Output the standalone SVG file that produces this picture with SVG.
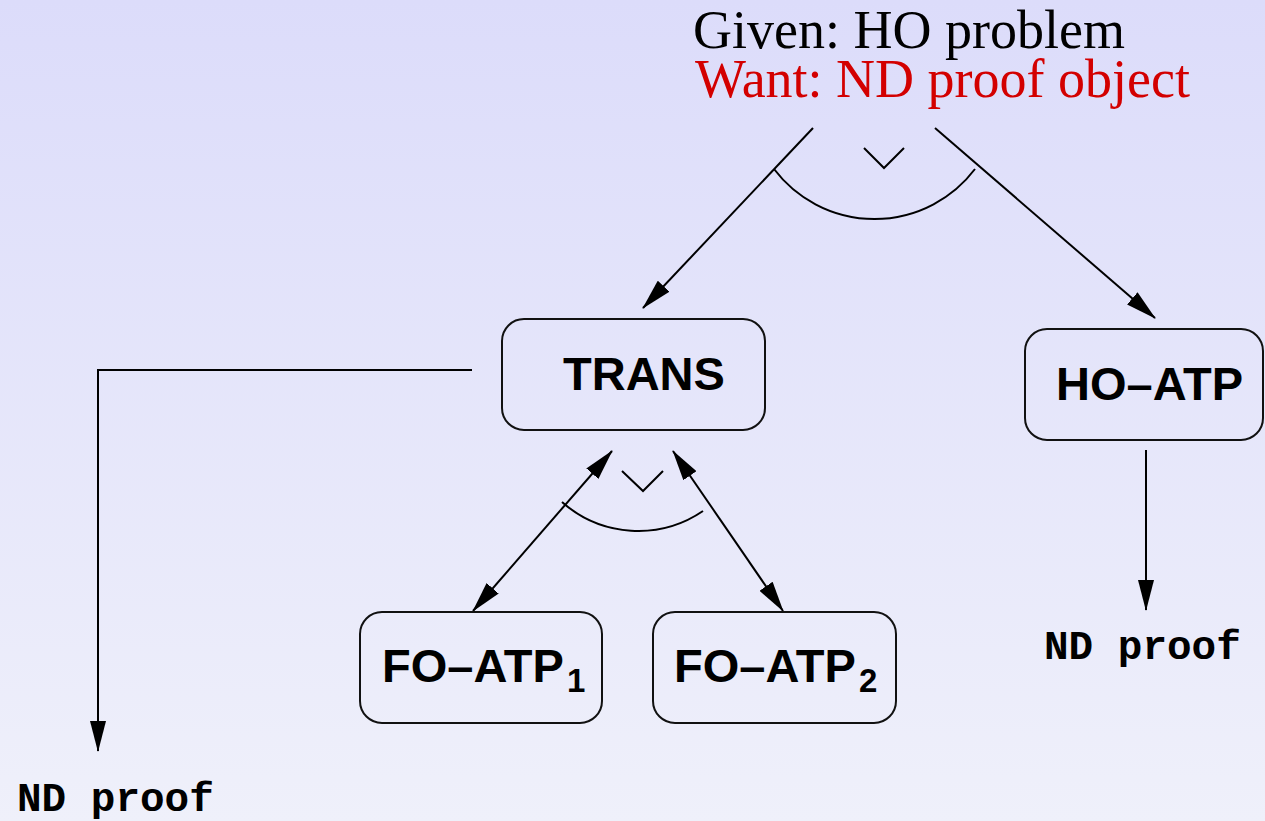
<svg xmlns="http://www.w3.org/2000/svg" width="1265" height="821" viewBox="0 0 1265 821">
  <defs>
    <linearGradient id="bg" x1="0" y1="0" x2="0" y2="1">
      <stop offset="0" stop-color="#dcdcfa"/>
      <stop offset="1" stop-color="#eff0fa"/>
    </linearGradient>
    <marker id="arrow" viewBox="0 0 31 16" refX="30" refY="8" markerWidth="31" markerHeight="16" markerUnits="userSpaceOnUse" orient="auto-start-reverse">
      <path d="M0,0 L31,8 L0,16 z" fill="#000"/>
    </marker>
    <style>
      .box { fill: none; stroke: #111; stroke-width: 2; }
      .lbl { font-family: "Liberation Sans", Arial, sans-serif; font-weight: bold; font-size: 47px; fill: #000; }
      .sub { font-size: 33px; }
      .mono { font-family: "Liberation Mono", "Courier New", monospace; font-weight: bold; font-size: 41px; fill: #000; }
      .head { font-family: "Liberation Serif", "Times New Roman", serif; font-size: 54px; }
      .wire { fill: none; stroke: #000; stroke-width: 2; }
      .arr { marker-end: url(#arrow); }
      .both { marker-start: url(#arrow); marker-end: url(#arrow); }
    </style>
  </defs>

  <rect width="1265" height="821" fill="url(#bg)"/>

  <!-- problem statement at the root -->
  <g id="goal">
    <text class="head" x="693" y="48" fill="#000">Given: HO problem</text>
    <text class="head" x="695" y="97" fill="#d30000">Want: ND proof object</text>
  </g>

  <g id="connectors">
    <!-- root splits into TRANS and HO-ATP (disjunction) -->
    <line class="wire arr" x1="813" y1="128" x2="643" y2="308"/>
    <line class="wire arr" x1="935" y1="128" x2="1155" y2="318"/>
    <path class="wire" d="M774,169 A126,126 0 0 0 975,169"/>
    <polyline class="wire" points="864,148 884,168 904,148"/>

    <!-- TRANS to the first-order provers (disjunction) -->
    <line class="wire both" x1="612" y1="451" x2="473" y2="611"/>
    <line class="wire both" x1="673" y1="451" x2="783" y2="611"/>
    <path class="wire" d="M562,502 A115,115 0 0 0 703,511"/>
    <polyline class="wire" points="622,471 643,491 663,471"/>

    <!-- TRANS result -->
    <polyline class="wire arr" points="472,370 98,370 98,751"/>

    <!-- HO-ATP result -->
    <line class="wire arr" x1="1146" y1="450" x2="1146" y2="610"/>
  </g>

  <g id="trans">
    <rect class="box" x="502" y="319" width="263" height="111" rx="22"/>
    <text class="lbl" x="563" y="390">TRANS</text>
  </g>

  <g id="ho-atp">
    <rect class="box" x="1025" y="329" width="238" height="111" rx="22"/>
    <text class="lbl" x="1056" y="400">HO–ATP</text>
  </g>

  <g id="fo-atp-1">
    <rect class="box" x="360" y="612" width="242" height="111" rx="22"/>
    <text class="lbl" x="382" y="682">FO–ATP<tspan class="sub" dx="3" dy="10">1</tspan></text>
  </g>

  <g id="fo-atp-2">
    <rect class="box" x="653" y="612" width="243" height="111" rx="22"/>
    <text class="lbl" x="674" y="682">FO–ATP<tspan class="sub" dx="3" dy="10">2</tspan></text>
  </g>

  <g id="nd-proof-left">
    <text class="mono" x="17" y="811">ND proof</text>
  </g>

  <g id="nd-proof-right">
    <text class="mono" x="1044" y="659">ND proof</text>
  </g>
</svg>
